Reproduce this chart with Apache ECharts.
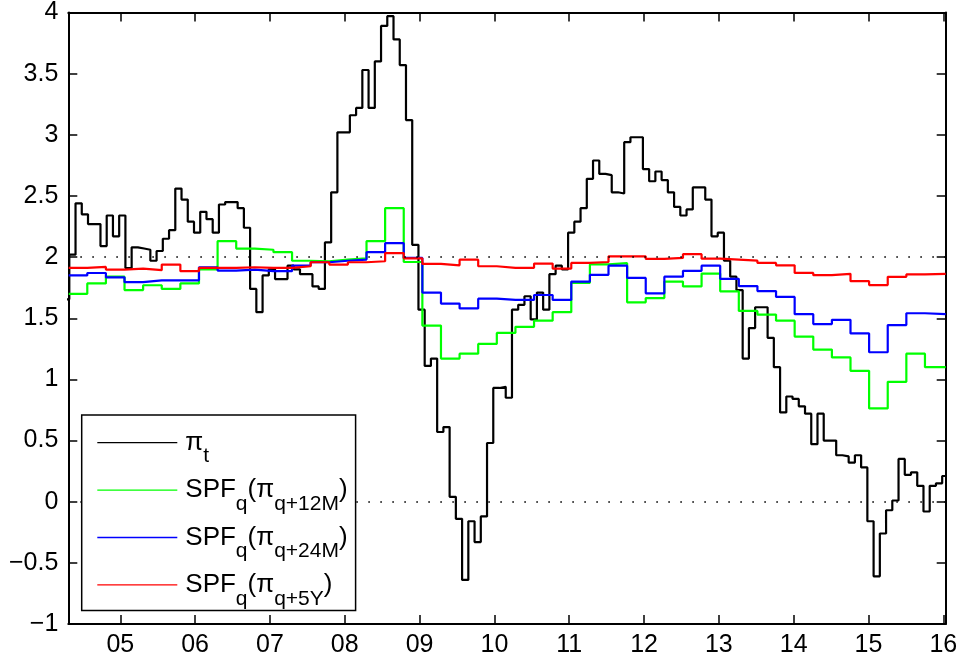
<!DOCTYPE html>
<html>
<head>
<meta charset="utf-8">
<title>Inflation and SPF expectations</title>
<script src="https://cdn.jsdelivr.net/npm/echarts@6.0.0/dist/echarts.min.js"></script>
<style>
  html, body { margin: 0; padding: 0; background: #fff; }
  #chart { width: 962px; height: 662px; }
</style>
</head>
<body>
<div id="chart"></div>
<script>
// monthly headline inflation (decimal years, first obs Apr 2004)
const piStart = 2004.235;
const piStep = 1 / 12;
const piValues = [
  1.655, 2.02, 2.44, 2.35, 2.27, 2.27, 2.09, 2.34, 2.17, 2.34,
  1.91, 2.08, 2.07, 2.06, 1.97, 2.05, 2.15, 2.22, 2.56, 2.47,
  2.29, 2.20, 2.37, 2.31, 2.20, 2.43, 2.45, 2.45, 2.40, 2.24,
  1.74, 1.55, 1.85, 1.90, 1.82, 1.82, 1.93, 1.90, 1.86, 1.86,
  1.76, 1.74, 2.12, 2.53, 3.02, 3.02, 3.16, 3.22, 3.53, 3.22,
  3.60, 3.89, 3.97, 3.78, 3.57, 3.12, 2.10, 1.57, 1.11, 1.17,
  0.57, 0.61, 0.04, -0.14, -0.64, -0.16, -0.33, -0.12, 0.48, 0.93,
  0.94, 0.85, 1.57, 1.61, 1.68, 1.49, 1.71, 1.57, 1.86, 1.93,
  1.90, 2.20, 2.29, 2.40, 2.64, 2.79, 2.68, 2.67, 2.53, 2.52,
  2.94, 2.98, 2.98, 2.72, 2.62, 2.70, 2.63, 2.53, 2.41, 2.34,
  2.39, 2.57, 2.57, 2.47, 2.17, 2.20, 1.97, 1.84, 1.73, 1.17,
  1.42, 1.59, 1.59, 1.34, 1.10, 0.73, 0.86, 0.84, 0.78, 0.72,
  0.47, 0.72, 0.50, 0.50, 0.38, 0.37, 0.32, 0.38, 0.28, -0.16,
  -0.61, -0.26, -0.07, 0.01, 0.35, 0.22, 0.24, 0.13, -0.08, 0.13,
  0.15, 0.21
];

// quarterly SPF rounds
const spfStart = 2004.31;
const spfStep = 0.2488;
const spf12M = [
  1.70, 1.785, 1.84, 1.73, 1.77, 1.74, 1.785, 1.90, 2.13, 2.07,
  2.06, 2.04, 1.97, 1.966, 1.98, 1.99, 2.13, 2.40, 1.96, 1.44,
  1.17, 1.21, 1.29, 1.38, 1.43, 1.48, 1.55, 1.79, 1.94, 1.95,
  1.63, 1.665, 1.80, 1.76, 1.865, 1.72, 1.56, 1.53, 1.48, 1.35,
  1.244, 1.18, 1.07, 0.763, 0.98, 1.21, 1.10
];
const spf24M = [
  1.85, 1.87, 1.835, 1.795, 1.81, 1.81, 1.81, 1.917, 1.89, 1.898,
  1.885, 1.885, 1.93, 1.958, 1.97, 1.98, 2.04, 2.114, 1.993, 1.71,
  1.62, 1.58, 1.66, 1.65, 1.65, 1.69, 1.65, 1.80, 1.855, 1.93,
  1.83, 1.704, 1.84, 1.888, 1.93, 1.822, 1.763, 1.722, 1.674, 1.533,
  1.452, 1.487, 1.376, 1.222, 1.444, 1.541, 1.533
];
const spf5Y = [
  1.912, 1.92, 1.898, 1.906, 1.893, 1.939, 1.885, 1.912, 1.912, 1.917,
  1.912, 1.912, 1.925, 1.958, 1.939, 1.958, 1.966, 2.033, 1.99, 1.944,
  1.933, 1.979, 1.925, 1.912, 1.912, 1.947, 1.906, 1.952, 1.96, 2.006,
  2.006, 1.985, 1.993, 2.024, 1.987, 1.979, 1.971, 1.952, 1.933, 1.871,
  1.852, 1.863, 1.803, 1.771, 1.839, 1.858, 1.863
];

const yearTicks = [2005, 2006, 2007, 2008, 2009, 2010, 2011, 2012, 2013, 2014, 2015, 2016];
const refLevels = [0, 2];
const xMin = 2004.305;
const xMax = 2016.032;

const legendText = {
  pi: '{m|π}{s|t}',
  spf12: '{m|SPF}{s|q}{m|(π}{s|q+12M}{m|)}',
  spf24: '{m|SPF}{s|q}{m|(π}{s|q+24M}{m|)}',
  spf5: '{m|SPF}{s|q}{m|(π}{s|q+5Y}{m|)}'
};

// stairs: each value holds until the next date, last one to the axis end
function stairs(t0, dt, vals) {
  const pts = vals.map((v, i) => [t0 + i * dt, v]);
  pts.push([xMax, vals[vals.length - 1]]);
  return pts;
}

const FONT = 'Liberation Sans, Arial, Helvetica, sans-serif';

function stepSeries(name, color, data, extra) {
  return Object.assign({
    name: name,
    type: 'line',
    step: 'end',
    data: data,
    symbol: 'none',
    showSymbol: false,
    lineStyle: { color: color, width: 2.2 },
    itemStyle: { color: color },
    silent: true
  }, extra || {});
}

const tickStyle = { show: true, inside: true, length: 9, lineStyle: { color: '#000', width: 1.5 } };
const lineStyle = { show: true, onZero: false, lineStyle: { color: '#000', width: 2 } };

const chart = echarts.init(document.getElementById('chart'));

chart.setOption({
  backgroundColor: '#fff',
  animation: false,
  grid: { left: 68.3, right: 16.3, top: 7.5, bottom: 38 },
  xAxis: [
    {
      type: 'value', position: 'bottom', min: xMin, max: xMax,
      axisLine: lineStyle,
      axisTick: Object.assign({ customValues: yearTicks }, tickStyle),
      axisLabel: {
        customValues: yearTicks,
        formatter: v => String(Math.round(v) % 100).padStart(2, '0'),
        color: '#000', fontSize: 25, fontFamily: FONT, margin: 9
      },
      splitLine: { show: false }
    },
    {
      type: 'value', position: 'top', min: xMin, max: xMax,
      axisLine: lineStyle,
      axisTick: Object.assign({ customValues: yearTicks }, tickStyle),
      axisLabel: { show: false },
      splitLine: { show: false }
    }
  ],
  yAxis: [
    {
      type: 'value', position: 'left', min: -1, max: 4, interval: 0.5,
      axisLine: lineStyle,
      axisTick: tickStyle,
      axisLabel: {
        formatter: v => String(v).replace('-', '\u2212'),
        color: '#000', fontSize: 25, fontFamily: FONT, margin: 10
      },
      splitLine: { show: false }
    },
    {
      type: 'value', position: 'right', min: -1, max: 4, interval: 0.5,
      axisLine: lineStyle,
      axisTick: tickStyle,
      axisLabel: { show: false },
      splitLine: { show: false }
    }
  ],
  legend: {
    data: ['pi', 'spf12', 'spf24', 'spf5'],
    orient: 'vertical',
    left: 81.7,
    top: 415,
    z: 10,
    selectedMode: false,
    backgroundColor: '#fff',
    borderColor: '#000',
    borderWidth: 1.5,
    borderRadius: 0,
    padding: [12.7, 8, 1, 15.6],
    icon: 'rect',
    itemWidth: 80,
    itemHeight: 1.3,
    itemGap: 7.9,
    formatter: name => legendText[name],
    textStyle: {
      color: '#000',
      fontFamily: FONT,
      fontSize: 26,
      padding: [0, 0, 0, 3],
      rich: {
        m: { fontSize: 26, height: 30, lineHeight: 30, fontFamily: FONT, color: '#000' },
        s: { fontSize: 21, height: 2, lineHeight: 30, padding: [28, 0, 0, 0], fontFamily: FONT, color: '#000' }
      }
    }
  },
  series: [
    stepSeries('pi', '#000000', stairs(piStart, piStep, piValues), {
      markLine: {
        silent: true,
        symbol: ['none', 'none'],
        label: { show: false },
        lineStyle: { color: '#000', width: 1.6, type: [1.6, 10.4] },
        data: refLevels.map(v => ({ yAxis: v }))
      }
    }),
    stepSeries('spf12', '#00ff00', stairs(spfStart, spfStep, spf12M)),
    stepSeries('spf24', '#0000ff', stairs(spfStart, spfStep, spf24M)),
    stepSeries('spf5', '#ff0000', stairs(spfStart, spfStep, spf5Y))
  ]
});
</script>
</body>
</html>
